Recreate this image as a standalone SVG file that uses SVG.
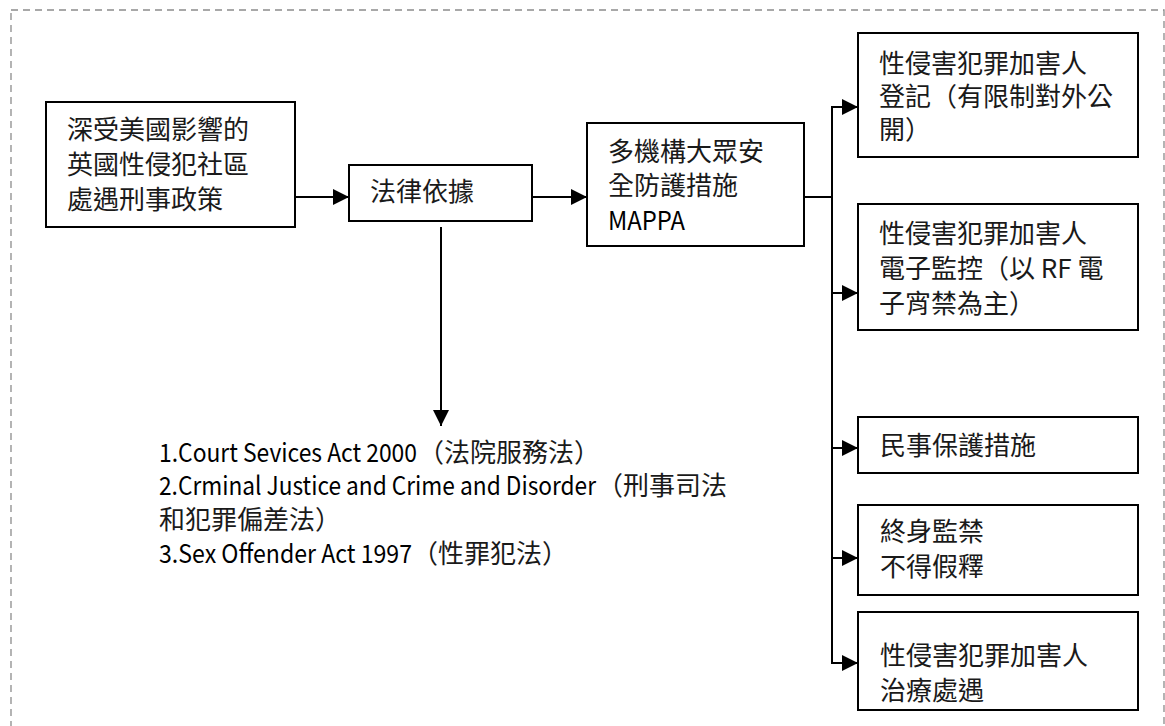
<svg xmlns="http://www.w3.org/2000/svg" width="1165" height="726" viewBox="0 0 1165 726">
<style>
.box{fill:#fff;stroke:#000;stroke-width:2}
.t{font-family:"Noto Sans CJK TC","Noto Sans CJK SC",sans-serif;font-size:26px;fill:#1a1a1a}
.l{font-size:25.5px;fill:#000}
.c{fill:none;stroke:#000;stroke-width:2}
</style>
<defs>
<marker id="ah" markerUnits="userSpaceOnUse" markerWidth="16" markerHeight="16" refX="16" refY="8" orient="auto">
<path d="M0,0 L16,8 L0,16 Z" fill="#000"/>
</marker>
</defs>
<rect x="11" y="10" width="1153" height="730" fill="none" stroke="#8c8c8c" stroke-width="1.3" stroke-dasharray="7 5"/>
<g id="connectors">
<line class="c" x1="295" y1="197" x2="349" y2="197" marker-end="url(#ah)"/>
<line class="c" x1="532" y1="197" x2="587" y2="197" marker-end="url(#ah)"/>
<line class="c" x1="441" y1="227" x2="441" y2="426" marker-end="url(#ah)"/>
<line class="c" x1="804" y1="197" x2="832" y2="197" stroke-width="2.5"/>
<line class="c" x1="832" y1="106" x2="832" y2="664" stroke-width="2.5"/>
<line class="c" x1="831" y1="107" x2="858" y2="107" marker-end="url(#ah)"/>
<line class="c" x1="831" y1="293" x2="858" y2="293" marker-end="url(#ah)"/>
<line class="c" x1="831" y1="448" x2="858" y2="448" marker-end="url(#ah)"/>
<line class="c" x1="831" y1="558" x2="858" y2="558" marker-end="url(#ah)"/>
<line class="c" x1="831" y1="663" x2="858" y2="663" marker-end="url(#ah)"/>
</g>
<g id="n1">
<rect class="box" x="46" y="102" width="249" height="125"/>
<text class="t" x="67" y="139">深受美國影響的</text>
<text class="t" x="67" y="174">英國性侵犯社區</text>
<text class="t" x="67" y="209">處遇刑事政策</text>
</g>
<g id="n2">
<rect class="box" x="349" y="165" width="183" height="56"/>
<text class="t" x="370" y="201">法律依據</text>
</g>
<g id="n3">
<rect class="box" x="587" y="123" width="217" height="123"/>
<text class="t" x="608" y="161">多機構大眾安</text>
<text class="t" x="608" y="195">全防護措施</text>
<text class="t l" x="608" y="230" textLength="77" lengthAdjust="spacingAndGlyphs">MAPPA</text>
</g>
<g id="nA">
<rect class="box" x="858" y="33" width="280" height="124"/>
<text class="t" x="879" y="73">性侵害犯罪加害人</text>
<text class="t" x="879" y="106">登記（有限制對外公</text>
<text class="t" x="879" y="139">開）</text>
</g>
<g id="nB">
<rect class="box" x="858" y="204" width="280" height="126"/>
<text class="t" x="879" y="243">性侵害犯罪加害人</text>
<text class="t" x="879" y="278">電子監控（以 RF 電</text>
<text class="t" x="879" y="313">子宵禁為主）</text>
</g>
<g id="nC">
<rect class="box" x="858" y="417" width="280" height="56"/>
<text class="t" x="880" y="455">民事保護措施</text>
</g>
<g id="nD">
<rect class="box" x="858" y="505" width="280" height="90"/>
<text class="t" x="880" y="541">終身監禁</text>
<text class="t" x="880" y="576">不得假釋</text>
</g>
<g id="nE">
<rect class="box" x="858" y="612" width="280" height="98"/>
<text class="t" x="880" y="665">性侵害犯罪加害人</text>
<text class="t" x="880" y="700">治療處遇</text>
</g>
<g id="laws">
<text class="t" y="462"><tspan class="l" x="159" textLength="258" lengthAdjust="spacingAndGlyphs">1.Court Sevices Act 2000</tspan><tspan x="418">（法院服務法）</tspan></text>
<text class="t" y="495"><tspan class="l" x="159" textLength="437" lengthAdjust="spacingAndGlyphs">2.Crminal Justice and Crime and Disorder</tspan><tspan x="597">（刑事司法</tspan></text>
<text class="t" x="159" y="529">和犯罪偏差法）</text>
<text class="t" y="563"><tspan class="l" x="159" textLength="253" lengthAdjust="spacingAndGlyphs">3.Sex Offender Act 1997</tspan><tspan x="412">（性罪犯法）</tspan></text>
</g>
</svg>
